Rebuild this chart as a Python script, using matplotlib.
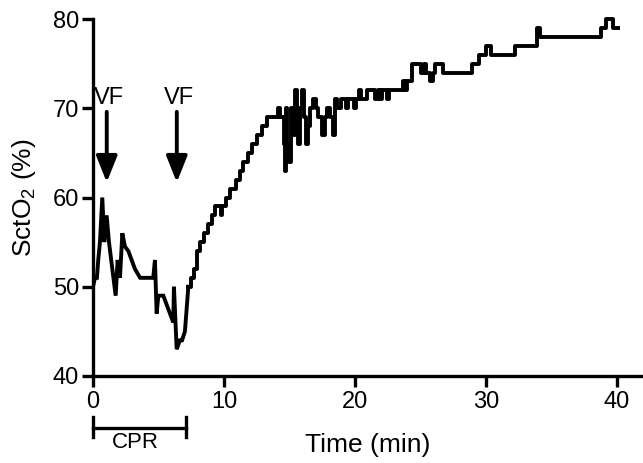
import matplotlib
matplotlib.use("Agg")
import matplotlib.pyplot as plt

plt.rcParams['font.family'] = ['Liberation Sans', 'DejaVu Sans']
plt.rcParams['mathtext.fontset'] = 'custom'
plt.rcParams['mathtext.rm'] = 'Liberation Sans'
plt.rcParams['mathtext.default'] = 'regular'

# early part of the trace (during CPR), drawn as a plain line
t_cpr = [0.0, 0.15, 0.3, 0.4, 0.53, 0.71, 0.86, 1.04, 1.22, 1.73, 1.88, 2.06,
         2.24, 2.44, 2.7, 2.95, 3.2, 3.6, 4.6, 4.73, 4.86, 4.99, 5.37, 6.13,
         6.18, 6.39, 6.64, 6.8, 7.02, 7.28]
v_cpr = [50, 51, 51, 53, 55, 60, 55, 58, 55, 49, 53, 51,
         56, 54.5, 54, 53, 52, 51, 51, 53, 47, 49, 49, 46,
         50, 43, 44, 44, 45, 50]

# recovery part, monitor values held between samples (step trace)
t_rec = [7.28, 7.45, 7.7, 7.95, 8.2, 8.45, 8.75, 9.05, 9.3, 9.75, 9.85, 10.15,
         10.45, 10.9, 11.2, 11.45, 11.8, 12.15, 12.55, 12.9, 13.3, 14.1, 14.25,
         14.55, 14.65, 14.75, 14.85, 14.95, 15.1, 15.25, 15.4, 15.55, 15.65,
         15.8, 15.95, 16.1, 16.25, 16.4, 16.6, 16.8, 17.0, 17.2, 17.45, 17.7,
         17.9, 18.1, 18.3, 18.45, 18.6, 18.9, 19.3, 19.5, 19.95, 20.1, 20.35,
         20.5, 20.9, 21.55, 21.75, 21.95, 22.1, 22.45, 22.6, 23.7, 23.85, 24.0,
         24.35, 25.05, 25.3, 25.45, 25.75, 25.95, 26.1, 26.7, 28.95, 29.5,
         30.0, 30.4, 32.2, 33.9, 34.1, 38.8, 39.2, 39.7, 40.1]
v_rec = [50, 51, 52, 54, 55, 56, 57, 58, 59, 58, 59, 60,
         61, 62, 63, 64, 65, 66, 67, 68, 69, 70, 69,
         66, 63, 70, 66, 64, 70, 67, 72, 68, 66,
         70, 72, 69, 66, 68, 70, 71, 70, 69, 67, 69,
         70, 69, 67, 71, 70, 71, 70, 71, 70, 71, 72,
         71, 72, 71, 72, 71, 72, 71, 72, 73, 72, 73,
         75, 74, 75, 74, 73, 74, 75, 74, 75, 76,
         77, 76, 77, 79, 78, 79, 80, 79, 79]

vf_times = [1.05, 6.4]
cpr_span = [0, 7.1]

fig = plt.figure(figsize=(6.43, 4.63), dpi=100)
ax = fig.add_axes([93 / 643, 87 / 463, 1 - 93 / 643, 357 / 463])

ax.plot(t_cpr, v_cpr, color='black', lw=2.8, solid_joinstyle='miter')
ax.plot(t_rec, v_rec, color='black', lw=2.8, drawstyle='steps-post',
        clip_on=False)

for t in vf_times:
    ax.annotate('', xy=(t, 61.7), xytext=(t, 69.6),
                arrowprops=dict(arrowstyle='-|>,head_length=0.4,head_width=0.16',
                                mutation_scale=40, lw=2.8, color='black',
                                shrinkA=0, shrinkB=0))
    ax.text(t + 0.2, 71.1, 'VF', fontsize=17, ha='center', va='center')

# CPR bracket under the axis
ax.plot(cpr_span, [34.2, 34.2], color='black', lw=2.4, clip_on=False)
for t in cpr_span:
    ax.plot([t, t], [33.2, 35.4], color='black', lw=2.4, clip_on=False)
ax.text(3.2, 32.6, 'CPR', fontsize=16, ha='center', va='center')

ax.set_xlim(0, 42)
ax.set_ylim(40, 80)
ax.set_xticks([0, 10, 20, 30, 40])
ax.set_yticks([40, 50, 60, 70, 80])
ax.spines['top'].set_visible(False)
ax.spines['right'].set_visible(False)
for s in ['left', 'bottom']:
    ax.spines[s].set_linewidth(2.4)
ax.tick_params(length=8, width=2.4, labelsize=17)
ax.tick_params(axis='x', pad=3)
ax.tick_params(axis='y', pad=2)

ax.set_xlabel('Time (min)', fontsize=19)
ax.set_ylabel('SctO$_2$ (%)', fontsize=19)
ax.xaxis.set_label_coords(0.5, -0.16)
ax.yaxis.set_label_coords(-0.1, 0.5)

fig.savefig('out.png', dpi=100)
